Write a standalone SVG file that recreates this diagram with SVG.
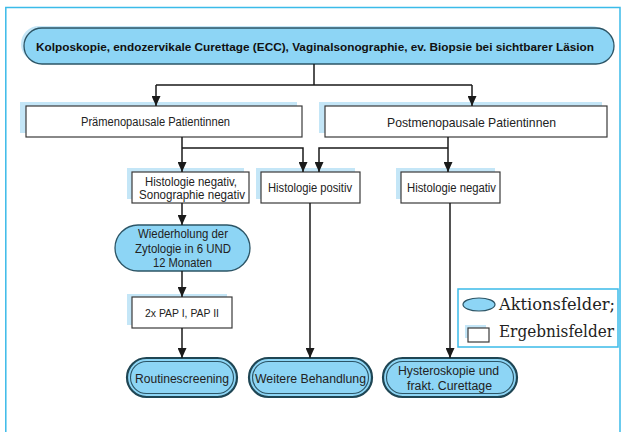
<svg xmlns="http://www.w3.org/2000/svg" width="624" height="432" viewBox="0 0 624 432">
<defs>
<marker id="arr" markerUnits="userSpaceOnUse" markerWidth="10" markerHeight="9" refX="10" refY="4.5" orient="auto">
<path d="M0,0 L10,4.5 L0,9 z" fill="#1a1a1a"/>
</marker>
<style>
.t{font-family:"Liberation Sans",Arial,sans-serif;fill:#222;text-anchor:middle;}
.b{font-weight:bold;fill:#111;}
.box{fill:#fff;stroke:#3a3a3a;stroke-width:1.2;}
.sh{fill:#c4e6f7;stroke:none;}
.act{fill:#8dd5f5;stroke:#2c5566;stroke-width:1.3;}
.out{fill:#8dd5f5;stroke:#1f4654;stroke-width:2.2;}
.inn{fill:none;stroke:#2c5566;stroke-width:1.1;}
.c{fill:none;stroke:#1a1a1a;stroke-width:1.5;}
.lg{font-family:"DejaVu Serif","Liberation Serif",serif;font-size:16px;fill:#222;}
</style>
</defs>
<rect width="624" height="432" fill="#fff"/>
<path d="M5.8,440 V7.5 H620 V440" fill="none" stroke="#3bbbe9" stroke-width="1.5"/>

<g id="n_top">
<rect class="sh" x="21" y="26" width="588" height="36" rx="18"/>
<rect class="act" x="24" y="28" width="590" height="36" rx="18"/>
<text class="t b" x="315" y="50.5" font-size="11.5" textLength="558" lengthAdjust="spacingAndGlyphs">Kolposkopie, endozervikale Curettage (ECC), Vaginalsonographie, ev. Biopsie bei sichtbarer Läsion</text>
</g>

<g id="n_prae">
<rect class="sh" x="20" y="102" width="277" height="31"/>
<rect class="box" x="26" y="106" width="276" height="31"/>
<text class="t" x="155.5" y="126" font-size="12.5" textLength="149" lengthAdjust="spacingAndGlyphs">Prämenopausale Patientinnen</text>
</g>

<g id="n_post">
<rect class="sh" x="319" y="102" width="283" height="31"/>
<rect class="box" x="325" y="106" width="282" height="31"/>
<text class="t" x="471.5" y="126.5" font-size="13" textLength="169" lengthAdjust="spacingAndGlyphs">Postmenopausale Patientinnen</text>
</g>

<g id="n_histneg1">
<rect class="sh" x="127" y="168" width="117" height="31"/>
<rect class="box" x="132" y="172" width="117" height="31"/>
<text class="t" x="191" y="186" font-size="12.5" textLength="92" lengthAdjust="spacingAndGlyphs">Histologie negativ,</text>
<text class="t" x="192" y="198.5" font-size="12.5" textLength="106" lengthAdjust="spacingAndGlyphs">Sonographie negativ</text>
</g>

<g id="n_histpos">
<rect class="sh" x="256" y="168" width="99" height="31"/>
<rect class="box" x="261" y="172" width="99" height="31"/>
<text class="t" x="310" y="192" font-size="12.5" textLength="84" lengthAdjust="spacingAndGlyphs">Histologie positiv</text>
</g>

<g id="n_histneg2">
<rect class="sh" x="396" y="168" width="99" height="31"/>
<rect class="box" x="401" y="172" width="99" height="31"/>
<text class="t" x="451.5" y="192" font-size="12.5" textLength="89" lengthAdjust="spacingAndGlyphs">Histologie negativ</text>
</g>

<g id="n_wdh">
<rect class="act" x="115" y="225" width="135" height="46" rx="23"/>
<text class="t" x="183" y="237.5" font-size="12.5" textLength="90" lengthAdjust="spacingAndGlyphs">Wiederholung der</text>
<text class="t" x="183" y="252.5" font-size="12.5" textLength="96" lengthAdjust="spacingAndGlyphs">Zytologie in 6 UND</text>
<text class="t" x="182.5" y="266.5" font-size="12.5" textLength="59" lengthAdjust="spacingAndGlyphs">12 Monaten</text>
</g>

<g id="n_pap">
<rect class="sh" x="127" y="294" width="100" height="31"/>
<rect class="box" x="132" y="297" width="100" height="31"/>
<text class="t" x="182" y="317" font-size="10.5" textLength="74" lengthAdjust="spacingAndGlyphs">2x PAP I, PAP II</text>
</g>

<g id="n_routine">
<rect class="out" x="127" y="358" width="110" height="39" rx="19.5"/>
<rect class="inn" x="130.5" y="361.5" width="103" height="32" rx="16"/>
<text class="t" x="182" y="383" font-size="12.5" textLength="94" lengthAdjust="spacingAndGlyphs">Routinescreening</text>
</g>

<g id="n_weitere">
<rect class="out" x="249" y="358" width="123" height="39" rx="19.5"/>
<rect class="inn" x="252.5" y="361.5" width="116" height="32" rx="16"/>
<text class="t" x="310.5" y="383" font-size="12.5" textLength="111" lengthAdjust="spacingAndGlyphs">Weitere Behandlung</text>
</g>

<g id="n_hyst">
<rect class="out" x="383" y="358" width="134" height="39" rx="19.5"/>
<rect class="inn" x="386.5" y="361.5" width="127" height="32" rx="16"/>
<text class="t" x="448.5" y="374.5" font-size="12.5" textLength="101" lengthAdjust="spacingAndGlyphs">Hysteroskopie und</text>
<text class="t" x="449.5" y="390" font-size="12.5" textLength="85" lengthAdjust="spacingAndGlyphs">frakt. Curettage</text>
</g>

<g id="legend">
<rect x="458" y="289" width="160" height="58" fill="#fff" stroke="#3bbbe9" stroke-width="1.5"/>
<ellipse cx="479" cy="304.5" rx="16" ry="6.5" fill="#8dd5f5" stroke="#2c5566" stroke-width="1.2"/>
<text class="lg" x="499" y="309.5" textLength="116" lengthAdjust="spacingAndGlyphs">Aktionsfelder;</text>
<rect class="sh" x="465" y="325" width="21" height="13"/>
<rect class="box" x="468" y="328" width="21" height="14"/>
<text class="lg" x="499" y="337" textLength="115" lengthAdjust="spacingAndGlyphs">Ergebnisfelder</text>
</g>

<g id="connectors">
<path class="c" d="M314,64 V85 M156,85 H472"/>
<path class="c" d="M156,85 V106" marker-end="url(#arr)"/>
<path class="c" d="M472,85 V106" marker-end="url(#arr)"/>
<path class="c" d="M182,137 V172" marker-end="url(#arr)"/>
<path class="c" d="M182,148 H303 V172" marker-end="url(#arr)"/>
<path class="c" d="M448,137 V172" marker-end="url(#arr)"/>
<path class="c" d="M448,148 H319 V172" marker-end="url(#arr)"/>
<path class="c" d="M182,203 V225" marker-end="url(#arr)"/>
<path class="c" d="M182,271 V297" marker-end="url(#arr)"/>
<path class="c" d="M182,328 V358" marker-end="url(#arr)"/>
<path class="c" d="M310,203 V358" marker-end="url(#arr)"/>
<path class="c" d="M450,203 V358" marker-end="url(#arr)"/>
</g>
</svg>
